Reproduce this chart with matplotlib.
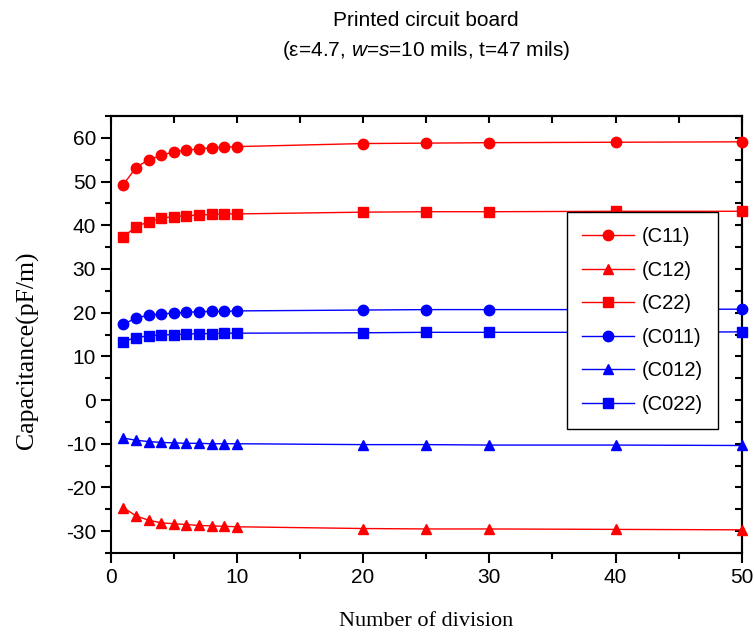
import numpy as np
import matplotlib

matplotlib.use("Agg")
import matplotlib.pyplot as plt
from matplotlib.ticker import MultipleLocator

plt.rcParams["font.family"] = ["Liberation Sans", "DejaVu Sans"]
plt.rcParams["axes.unicode_minus"] = False
plt.rcParams["mathtext.fontset"] = "custom"
plt.rcParams["mathtext.rm"] = "Liberation Sans"
plt.rcParams["mathtext.it"] = "Liberation Sans:italic"

# number of divisions
divisions = [1, 2, 3, 4, 5, 6, 7, 8, 9, 10, 20, 25, 30, 40, 50]

# capacitance (pF/m)
c11 = [49.3, 53.2, 55.0, 56.0, 56.8, 57.2, 57.5, 57.7, 57.9, 58.0, 58.7, 58.8, 58.9, 59.0, 59.1]
c12 = [-24.6, -26.5, -27.5, -28.1, -28.3, -28.5, -28.7, -28.8, -28.9, -29.0, -29.4, -29.5, -29.5, -29.6, -29.7]
c22 = [37.3, 39.7, 40.8, 41.6, 42.0, 42.2, 42.3, 42.5, 42.6, 42.6, 43.0, 43.1, 43.1, 43.2, 43.2]
c011 = [17.3, 18.8, 19.4, 19.7, 19.9, 20.1, 20.2, 20.3, 20.3, 20.4, 20.6, 20.7, 20.7, 20.7, 20.8]
c012 = [-8.7, -9.2, -9.5, -9.7, -9.8, -9.9, -9.9, -10.0, -10.0, -10.0, -10.2, -10.2, -10.3, -10.3, -10.4]
c022 = [13.4, 14.3, 14.7, 14.9, 15.0, 15.1, 15.2, 15.2, 15.3, 15.3, 15.4, 15.5, 15.5, 15.5, 15.6]

series = [
    (c11, "o", "#FF0000", "(C11)"),
    (c12, "^", "#FF0000", "(C12)"),
    (c22, "s", "#FF0000", "(C22)"),
    (c011, "o", "#0000FF", "(C011)"),
    (c012, "^", "#0000FF", "(C012)"),
    (c022, "s", "#0000FF", "(C022)"),
]

fig = plt.figure(figsize=(7.54, 6.33), dpi=100)
ax = fig.add_axes([0.1468, 0.1264, 0.8369, 0.6903])

for vals, mk, col, lab in series:
    ms = 6.5 if mk == "s" else 7.5
    ax.plot(divisions, vals, color=col, marker=mk, markersize=ms, lw=1.0,
            label=lab, clip_on=False, zorder=3)

ax.set_xlim(0, 50)
ax.set_ylim(-35, 65)
ax.xaxis.set_major_locator(MultipleLocator(10))
ax.xaxis.set_minor_locator(MultipleLocator(5))
ax.yaxis.set_major_locator(MultipleLocator(10))
ax.yaxis.set_minor_locator(MultipleLocator(5))

for s in ax.spines.values():
    s.set_linewidth(1.5)

ax.tick_params(which="both", direction="out", width=1.5, labelsize=15, top=False, right=False)
ax.tick_params(which="major", length=7)
ax.tick_params(which="minor", length=4)

# inward ticks on the top and right edges
ax_top = ax.secondary_xaxis("top")
ax_top.xaxis.set_major_locator(MultipleLocator(5))
ax_top.tick_params(direction="in", length=5, width=1.5, labeltop=False)
ax_top.spines["top"].set_linewidth(1.5)
ax_right = ax.secondary_yaxis("right")
ax_right.yaxis.set_major_locator(MultipleLocator(5))
ax_right.tick_params(direction="in", length=5, width=1.5, labelright=False)
ax_right.spines["right"].set_linewidth(1.5)

ax.set_xlabel("Number of division", family="Liberation Serif", fontsize=16, labelpad=18)
ax.set_ylabel("Capacitance(pF/m)", family="Liberation Serif", fontsize=18.5)
ax.yaxis.set_label_coords(-0.113, 0.465)

fig.text(0.565, 0.968, "Printed circuit board", ha="center", va="center", fontsize=15)
fig.text(0.565, 0.921, "(ε=4.7, $\\mathit{w}$=$\\mathit{s}$=10 mils, t=47 mils)",
         ha="center", va="center", fontsize=15)

leg = ax.legend(loc="lower right", bbox_to_anchor=(0.962, 0.284), fontsize=14.5,
                frameon=True, fancybox=False, edgecolor="black", framealpha=1,
                handlelength=2.6, borderpad=0.75, labelspacing=0.72,
                handletextpad=0.35, borderaxespad=0)
leg.get_frame().set_linewidth(1.0)

fig.savefig("out.png", dpi=100)
